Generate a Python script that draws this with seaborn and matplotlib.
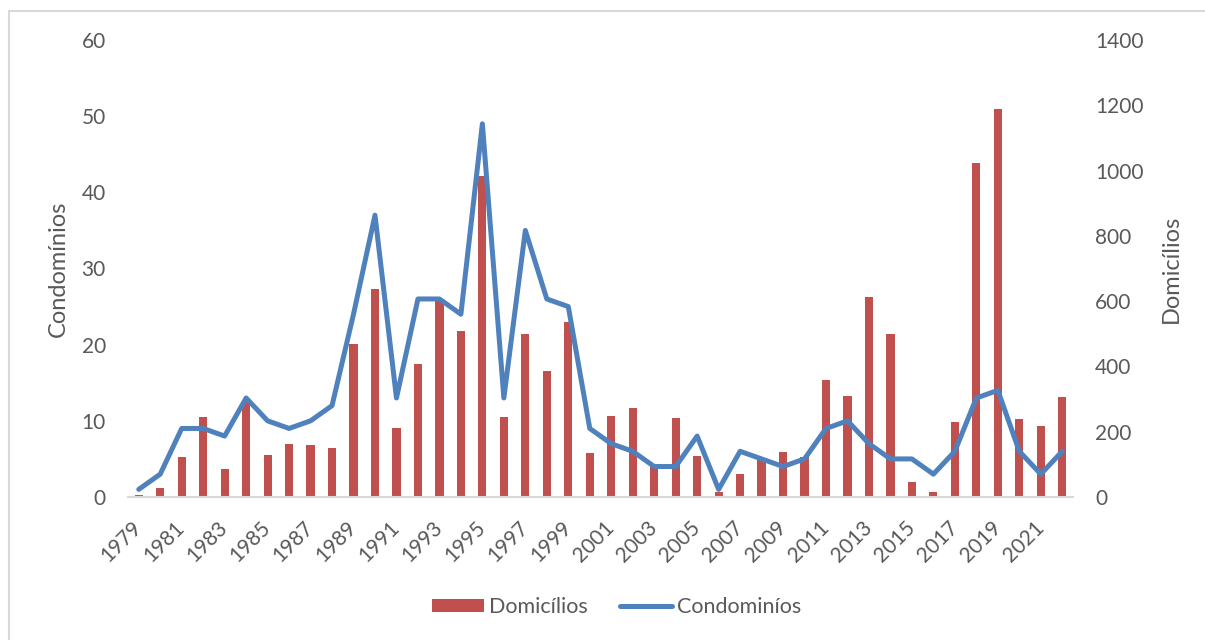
import numpy as np
import pandas as pd
import matplotlib
matplotlib.use("Agg")
import matplotlib.pyplot as plt
from matplotlib.patches import Patch
from matplotlib.lines import Line2D
import seaborn as sns

# Annual series 1979-2022
anos = list(range(1979, 2023))
domicilios = [6, 27, 122, 244, 85, 290, 130, 162, 160, 150,
              468, 637, 210, 408, 600, 508, 984, 246, 498, 387,
              536, 134, 248, 274, 95, 241, 127, 14, 70, 118,
              137, 122, 359, 309, 612, 498, 45, 14, 229, 1022,
              1189, 239, 218, 306]
condominios = [1, 3, 9, 9, 8, 13, 10, 9, 10, 12,
               24, 37, 13, 26, 26, 24, 49, 13, 35, 26,
               25, 9, 7, 6, 4, 4, 8, 1, 6, 5,
               4, 5, 9, 10, 7, 5, 5, 3, 6, 13,
               14, 6, 3, 6]
rotulos_x = [str(a) for a in anos[::2]]
ticks_esq = [0, 10, 20, 30, 40, 50, 60]
ticks_dir = [0, 200, 400, 600, 800, 1000, 1200, 1400]

df = pd.DataFrame({"ano": [str(a) for a in anos],
                   "pos": np.arange(len(anos)),
                   "domicilios": domicilios,
                   "condominios": condominios})

VERMELHO = "#C0504D"
AZUL = "#4F81BD"
CINZA_TXT = "#595959"
CINZA_LINHA = "#D9D9D9"

sns.set_theme(style="white")
plt.rcParams["font.family"] = ["Lato", "DejaVu Sans"]
FS = 15

fig = plt.figure(figsize=(12.05, 6.4), dpi=100)
fig.subplots_adjust(left=128 / 1205, right=1073 / 1205,
                    bottom=1 - 497 / 640, top=1 - 40 / 640)
ax = fig.add_subplot(111)
ax2 = ax.twinx()

# Bars (right axis)
sns.barplot(data=df, x="ano", y="domicilios", ax=ax2, color=VERMELHO,
            saturation=1, width=0.38, edgecolor="none")
# Line (left axis), drawn above the bars
sns.lineplot(data=df, x="pos", y="condominios", ax=ax, color=AZUL,
             linewidth=3.6, solid_joinstyle="round", solid_capstyle="round")
ax.set_zorder(ax2.get_zorder() + 1)
ax.patch.set_visible(False)

n = len(anos)
ax.set_xlim(-0.5, n - 0.5)
ax.set_ylim(0, 60)
ax2.set_ylim(0, 1400)
ax.set_yticks(ticks_esq)
ax2.set_yticks(ticks_dir)
ax.set_xticks(np.arange(0, n, 2))
ax.set_xticklabels(rotulos_x, rotation=45, ha="right", va="center",
                   rotation_mode="anchor")

ax.tick_params(axis="y", length=0, pad=16, labelsize=FS, labelcolor=CINZA_TXT)
ax2.tick_params(axis="y", length=0, pad=16, labelsize=FS, labelcolor=CINZA_TXT)
ax.tick_params(axis="x", length=0, pad=20, labelsize=FS, labelcolor=CINZA_TXT)

for a in (ax, ax2):
    for s in ("top", "left", "right"):
        a.spines[s].set_visible(False)
    a.spines["bottom"].set_visible(False)
ax2.spines["bottom"].set_visible(True)
ax2.spines["bottom"].set_color(CINZA_LINHA)
ax2.spines["bottom"].set_linewidth(1.5)

ax.set_xlabel("")
ax.set_ylabel("Condomínios", fontsize=FS + 2, color=CINZA_TXT)
ax2.set_ylabel("Domicílios", fontsize=FS + 2, color=CINZA_TXT)
ax.yaxis.set_label_coords((58 - 128) / 945, 0.5)
ax2.yaxis.set_label_coords((1171 - 128) / 945, 0.5)
for lab in (ax.yaxis.label, ax2.yaxis.label):
    lab.set_va("center")
    lab.set_ha("center")

handles = [Patch(facecolor=VERMELHO, edgecolor="none", label="Domicílios"),
           Line2D([], [], color=AZUL, linewidth=3.6, solid_capstyle="round",
                  label="Condominíos")]
leg = fig.legend(handles=handles, loc="center", ncol=2, frameon=False,
                 bbox_to_anchor=(617 / 1205, 1 - 607 / 640),
                 fontsize=FS + 0.5, handlelength=2.4, handleheight=0.6,
                 handletextpad=0.25, columnspacing=1.5)
for t in leg.get_texts():
    t.set_color(CINZA_TXT)

# Chart-area border
fig.add_artist(Line2D([8.5 / 1205, 8.5 / 1205], [0, 1 - 10.5 / 640],
                      transform=fig.transFigure, color=CINZA_LINHA, lw=1.5))
fig.add_artist(Line2D([8.5 / 1205, 1], [1 - 10.5 / 640, 1 - 10.5 / 640],
                      transform=fig.transFigure, color=CINZA_LINHA, lw=1.5))

fig.savefig("out.png", dpi=100, facecolor="white")
